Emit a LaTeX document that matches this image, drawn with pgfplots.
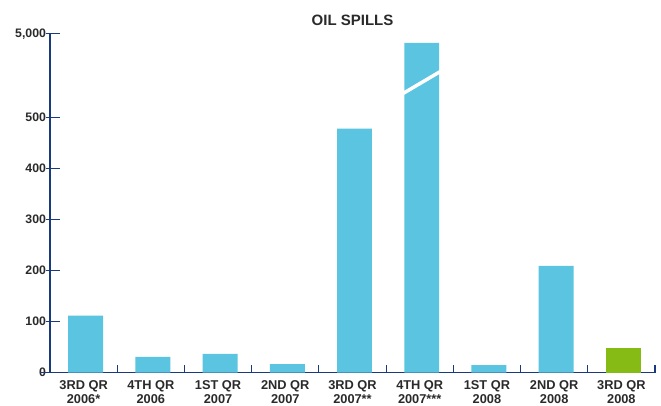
\documentclass[border=0pt]{standalone}
\usepackage{pgfplots}
\pgfplotsset{compat=1.18}
\usepackage{fontspec}
\setmainfont{Liberation Sans}
\definecolor{barblue}{HTML}{5BC4E0}
\definecolor{bargreen}{HTML}{85BB14}
\definecolor{axisblue}{HTML}{1A3A80}
\definecolor{txt}{HTML}{2A2A2A}
\begin{document}
\begin{tikzpicture}
% y values on display scale: 0-500 linear; broken axis above 500, 5,000 drawn at 664
\begin{axis}[
  name=ax,
  at={(0,0)}, anchor=south west,
  scale only axis,
  width=605pt, height=339pt,
  xmin=0, xmax=9,
  ymin=0, ymax=664,
  clip=false,
  axis x line*=bottom,
  axis y line*=left,
  axis line style={axisblue, line width=1.2pt, -},
  xtick={0.5,1.5,...,8.5},
  xticklabels={{3RD QR\\2006*},{4TH QR\\2006},{1ST QR\\2007},{2ND QR\\2007},{3RD QR\\2007**},{4TH QR\\2007***},{1ST QR\\2008},{2ND QR\\2008},{3RD QR\\2008}},
  xticklabel style={align=center, font=\fontsize{12.8}{13.2}\selectfont\bfseries, text=txt, yshift=-0.5pt},
  ytick={0,100,200,300,400,500,664},
  yticklabels={0,100,200,300,400,500,{5,000}},
  yticklabel style={font=\fontsize{12.3}{13}\selectfont\bfseries, text=txt, xshift=-0.5pt},
  tick style={draw=none},
  title={OIL SPILLS},
  title style={font=\fontsize{15}{16}\selectfont\bfseries, text=txt, yshift=-1pt},
  ybar, bar width=0.52,
]
\addplot[fill=barblue, draw=none, bar shift=0.03] coordinates {
  (0.5,112) (1.5,31) (2.5,37) (3.5,17) (4.5,478) (5.5,646) (6.5,15) (7.5,209)
};
\addplot[fill=bargreen, draw=none, bar shift=0.03] coordinates {(8.5,48.5)};
\draw[white, line width=3.5pt] (axis cs:5.24,546) -- (axis cs:5.82,591);
\draw[axisblue, line width=1.2pt] (axis cs:0,0) -- ++(-10pt,0);
\pgfplotsinvokeforeach{1,...,9}{\draw[axisblue, line width=1.2pt] (axis cs:#1,0) -- ++(0,8pt);}
\pgfplotsinvokeforeach{100,200,300,400,500,664}{\draw[axisblue, line width=1.2pt] (axis cs:0,#1) ++(-4pt,0) -- ++(14pt,0);}
\end{axis}
\pgfresetboundingbox
\path (ax.south west) ++(-50pt,-32.3pt) rectangle ++(661pt,405pt);
\end{tikzpicture}
\end{document}
